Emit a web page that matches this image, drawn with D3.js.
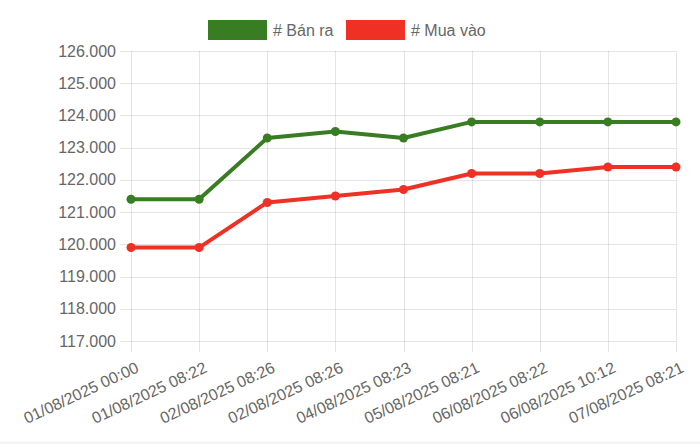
<!DOCTYPE html>
<meta charset="utf-8">
<style>
html, body { margin: 0; overflow: hidden; background: #fff; }
text { font-family: "Liberation Sans", Arial, sans-serif; fill: #666; }
.grid line { stroke: rgba(0,0,0,0.1); stroke-width: 1; }
</style>
<body>
<script src="https://d3js.org/d3.v7.min.js"></script>
<script>

var width = 700,
  height = 444;

// data
var labels = ["01/08/2025 00:00", "01/08/2025 08:22", "02/08/2025 08:26", "02/08/2025 08:26",
  "04/08/2025 08:23", "05/08/2025 08:21", "06/08/2025 08:22", "06/08/2025 10:12", "07/08/2025 08:21"];
var banRa = [121400, 121400, 123300, 123500, 123300, 123800, 123800, 123800, 123800];
var muaVao = [119900, 119900, 121300, 121500, 121700, 122200, 122200, 122400, 122400];
var yTicks = [117000, 118000, 119000, 120000, 121000, 122000, 123000, 124000, 125000, 126000];

var series = [
  { name: "# Bán ra", values: banRa, color: "#397d22" },
  { name: "# Mua vào", values: muaVao, color: "#ee3124" }
];

var vn = d3.formatLocale({ decimal: ",", thousands: ".", grouping: [3], currency: ["", ""] });
var fmt = vn.format(",.0f");

var x = d3.scalePoint().domain(d3.range(labels.length)).range([131, 676]);
var y = d3.scaleLinear().domain([117000, 126000]).range([341, 51]);

var svg = d3.select("body").append("svg")
  .attr("width", width)
  .attr("height", height);

// bottom strip
svg.append("rect")
  .attr("x", 0).attr("y", 441.5)
  .attr("width", width).attr("height", 3)
  .attr("fill", "#f4f4f4");

// horizontal grid
var grid = svg.append("g").attr("class", "grid");
grid.selectAll(".h")
  .data(yTicks)
  .enter().append("line")
  .attr("x1", 120).attr("x2", 676)
  .attr("y1", function(d) { return Math.round(y(d)) + 0.5; })
  .attr("y2", function(d) { return Math.round(y(d)) + 0.5; });

grid.selectAll(".v")
  .data(d3.range(labels.length))
  .enter().append("line")
  .attr("x1", function(d) { return Math.round(x(d)) + 0.5; })
  .attr("x2", function(d) { return Math.round(x(d)) + 0.5; })
  .attr("y1", 51).attr("y2", 352);

// y labels
svg.selectAll(".ylab")
  .data(yTicks)
  .enter().append("text")
  .attr("x", 116)
  .attr("y", function(d) { return y(d); })
  .attr("dy", "0.35em")
  .attr("text-anchor", "end")
  .attr("font-size", 16)
  .text(function(d) { return fmt(d); });

// x labels
svg.selectAll(".xlab")
  .data(labels)
  .enter().append("text")
  .attr("transform", function(d, i) { return "translate(" + (x(i) + 4) + ",361) rotate(-25)"; })
  .attr("dy", "0.72em")
  .attr("text-anchor", "end")
  .attr("font-size", 16)
  .text(function(d) { return d; });

// lines and points
var line = d3.line()
  .x(function(d, i) { return x(i); })
  .y(function(d) { return y(d); });

series.forEach(function(s) {
  svg.append("path")
    .datum(s.values)
    .attr("d", line)
    .attr("fill", "none")
    .attr("stroke", s.color)
    .attr("stroke-width", 4)
    .attr("stroke-linejoin", "round");

  svg.selectAll(null)
    .data(s.values)
    .enter().append("circle")
    .attr("cx", function(d, i) { return x(i); })
    .attr("cy", function(d) { return y(d); })
    .attr("r", 4.5)
    .attr("fill", s.color);
});

// legend
var legendX = [208, 346];
var legend = svg.selectAll(".legend")
  .data(series)
  .enter().append("g")
  .attr("transform", function(d, i) { return "translate(" + legendX[i] + ",20)"; });

legend.append("rect")
  .attr("width", 59).attr("height", 20)
  .attr("fill", function(d) { return d.color; });

legend.append("text")
  .attr("x", 65).attr("y", 10)
  .attr("dy", "0.36em")
  .attr("font-size", 16)
  .text(function(d) { return d.name; });

</script>
